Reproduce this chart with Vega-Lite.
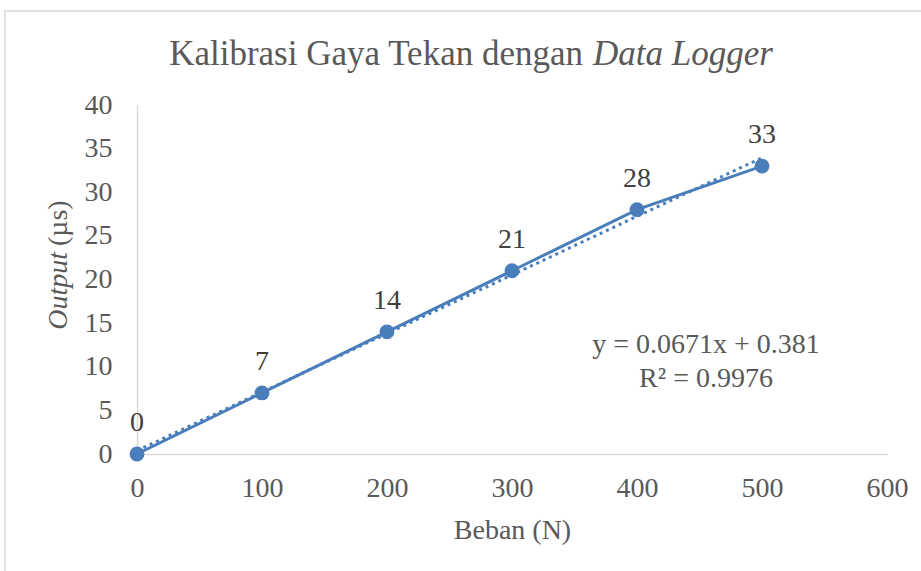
{
  "$schema": "https://vega.github.io/schema/vega-lite/v6.json",
  "autosize": {"type": "none"},
  "width": 750,
  "height": 349,
  "padding": {"left": 137, "top": 105, "right": 34, "bottom": 117},
  "background": "white",
  "config": {
    "font": "Liberation Serif",
    "view": {"stroke": null},
    "text": {"font": "Liberation Serif"},
    "axis": {
      "labelFont": "Liberation Serif",
      "titleFont": "Liberation Serif",
      "labelFontSize": 28,
      "titleFontSize": 28,
      "labelColor": "#595959",
      "titleColor": "#595959",
      "titleFontWeight": "normal",
      "gridColor": "#d9d9d9",
      "gridWidth": 1.5,
      "domainColor": "#d9d9d9",
      "domainWidth": 1.5,
      "ticks": false
    }
  },
  "datasets": {
    "pts": [
      {"beban": 0, "output": 0},
      {"beban": 100, "output": 7},
      {"beban": 200, "output": 14},
      {"beban": 300, "output": 21},
      {"beban": 400, "output": 28},
      {"beban": 500, "output": 33}
    ],
    "notes": [
      {"label": "y = 0.0671x + 0.381", "kind": "eq1"},
      {"label": "R² = 0.9976", "kind": "eq2"},
      {"label": "Kalibrasi Gaya Tekan dengan", "kind": "t1"},
      {"label": "Data Logger", "kind": "t2"},
      {"label": "Output", "kind": "y1"},
      {"label": "(µs)", "kind": "y2"},
      {"label": "", "kind": "frame"}
    ]
  },
  "layer": [
    {
      "data": {"name": "notes"},
      "transform": [{"filter": "datum.kind === 'frame'"}],
      "mark": {"type": "rect", "fill": "transparent", "stroke": "#d9d9d9", "strokeWidth": 1.5, "clip": false},
      "encoding": {
        "x": {"datum": -105.6, "type": "quantitative",
          "scale": {"domain": [0, 600], "nice": false, "zero": true},
          "axis": {"values": [0, 100, 200, 300, 400, 500, 600], "title": "Beban (N)", "labelPadding": 20, "titlePadding": 14, "labelFlush": false}},
        "x2": {"datum": 640},
        "y": {"datum": 50.77, "type": "quantitative",
          "scale": {"domain": [0, 40], "nice": false},
          "axis": {"values": [0, 5, 10, 15, 20, 25, 30, 35, 40], "title": null, "labelPadding": 25, "labelFlush": false}},
        "y2": {"datum": -16}
      }
    },
    {
      "data": {"name": "pts"},
      "transform": [{"regression": "output", "on": "beban"}],
      "mark": {"type": "line", "color": "#4A7EBB", "strokeWidth": 3, "strokeDash": [3, 4]},
      "encoding": {
        "x": {"field": "beban", "type": "quantitative"},
        "y": {"field": "output", "type": "quantitative"}
      }
    },
    {
      "data": {"name": "pts"},
      "mark": {"type": "line", "color": "#4A7EBB", "strokeWidth": 3,
               "point": {"filled": true, "size": 220, "color": "#4A7EBB", "opacity": 1}},
      "encoding": {
        "x": {"field": "beban", "type": "quantitative"},
        "y": {"field": "output", "type": "quantitative"}
      }
    },
    {
      "data": {"name": "pts"},
      "mark": {"type": "text", "fontSize": 28, "color": "#404040", "baseline": "alphabetic", "dy": -23},
      "encoding": {
        "x": {"field": "beban", "type": "quantitative"},
        "y": {"field": "output", "type": "quantitative"},
        "text": {"field": "output", "type": "quantitative"}
      }
    },
    {
      "data": {"name": "notes"},
      "transform": [{"filter": "datum.kind === 'eq1'"}],
      "mark": {"type": "text", "fontSize": 28, "color": "#595959", "baseline": "alphabetic", "align": "center"},
      "encoding": {
        "x": {"datum": 455.2, "type": "quantitative"},
        "y": {"datum": 11.58, "type": "quantitative"},
        "text": {"field": "label", "type": "nominal"}
      }
    },
    {
      "data": {"name": "notes"},
      "transform": [{"filter": "datum.kind === 'eq2'"}],
      "mark": {"type": "text", "fontSize": 28, "color": "#595959", "baseline": "alphabetic", "align": "center"},
      "encoding": {
        "x": {"datum": 455.2, "type": "quantitative"},
        "y": {"datum": 7.68, "type": "quantitative"},
        "text": {"field": "label", "type": "nominal"}
      }
    },
    {
      "data": {"name": "notes"},
      "transform": [{"filter": "datum.kind === 't1'"}],
      "mark": {"type": "text", "fontSize": 35, "color": "#595959", "baseline": "alphabetic", "align": "right", "clip": false},
      "encoding": {
        "x": {"datum": 356.8, "type": "quantitative"},
        "y": {"datum": 44.6, "type": "quantitative"},
        "text": {"field": "label", "type": "nominal"}
      }
    },
    {
      "data": {"name": "notes"},
      "transform": [{"filter": "datum.kind === 't2'"}],
      "mark": {"type": "text", "fontSize": 35, "fontStyle": "italic", "color": "#595959", "baseline": "alphabetic", "align": "left", "clip": false},
      "encoding": {
        "x": {"datum": 364.8, "type": "quantitative"},
        "y": {"datum": 44.6, "type": "quantitative"},
        "text": {"field": "label", "type": "nominal"}
      }
    },
    {
      "data": {"name": "notes"},
      "transform": [{"filter": "datum.kind === 'y1'"}],
      "mark": {"type": "text", "fontSize": 28, "fontStyle": "italic", "color": "#595959", "baseline": "alphabetic", "align": "right", "angle": 270, "clip": false},
      "encoding": {
        "x": {"datum": -56, "type": "quantitative"},
        "y": {"datum": 23.15, "type": "quantitative"},
        "text": {"field": "label", "type": "nominal"}
      }
    },
    {
      "data": {"name": "notes"},
      "transform": [{"filter": "datum.kind === 'y2'"}],
      "mark": {"type": "text", "fontSize": 28, "color": "#595959", "baseline": "alphabetic", "align": "left", "angle": 270, "clip": false},
      "encoding": {
        "x": {"datum": -56, "type": "quantitative"},
        "y": {"datum": 23.84, "type": "quantitative"},
        "text": {"field": "label", "type": "nominal"}
      }
    }
  ]
}
